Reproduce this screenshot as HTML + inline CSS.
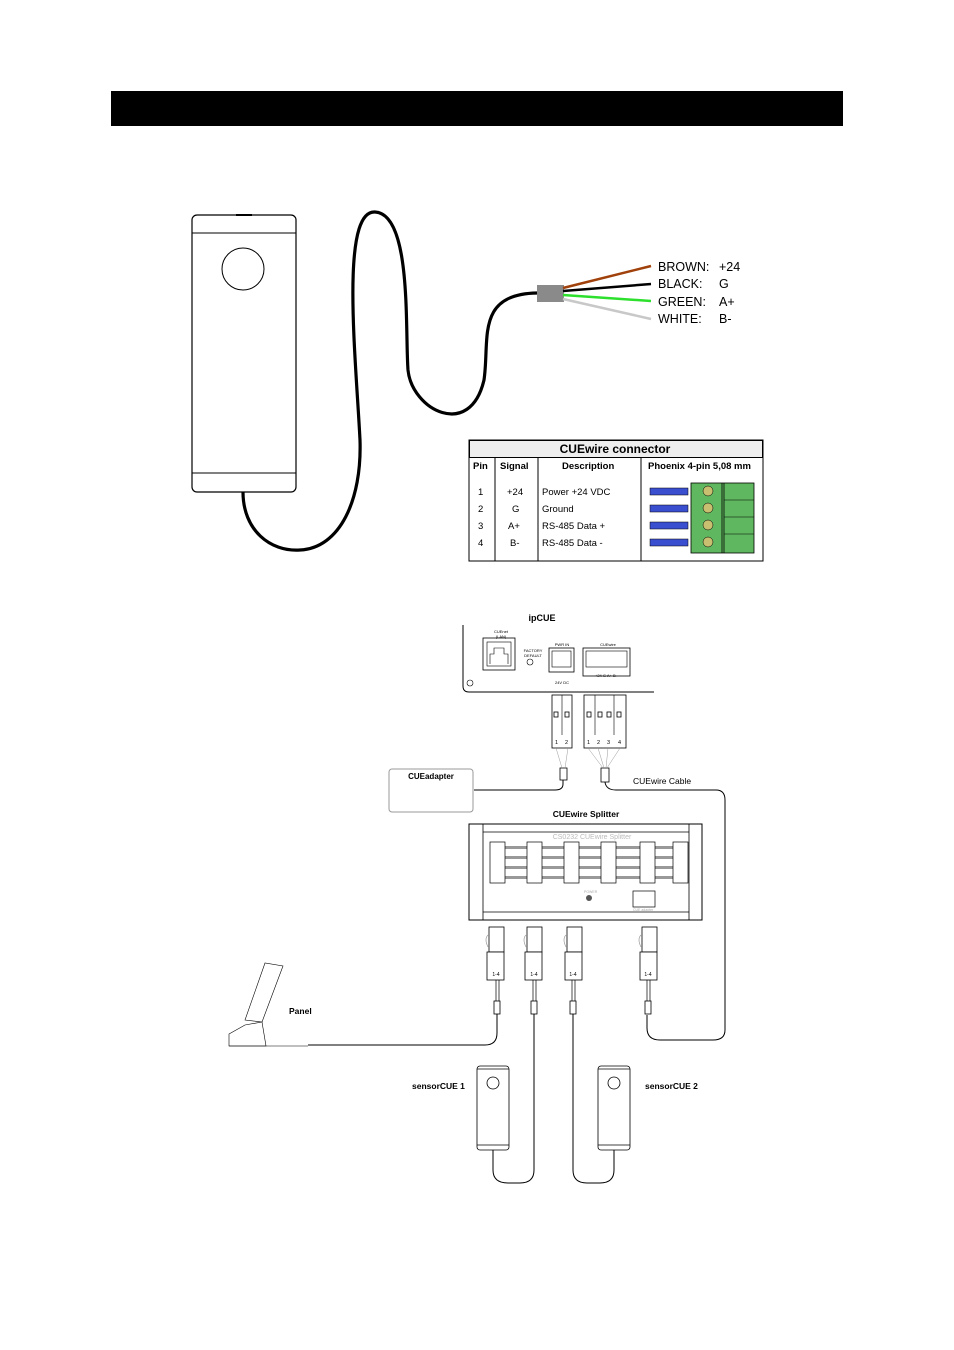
<!DOCTYPE html>
<html><head><meta charset="utf-8"><style>
body{margin:0;background:#fff}
svg{display:block}
text{font-family:"Liberation Sans",Arial,sans-serif}
</style></head><body>
<svg width="954" height="1350" viewBox="0 0 954 1350" xmlns="http://www.w3.org/2000/svg">
<rect x="111" y="91" width="732" height="35" fill="#000"/>

<!-- big sensor -->
<rect x="192" y="215" width="104" height="277" rx="5" fill="#fff" stroke="#000" stroke-width="1.2"/>
<line x1="192" y1="233" x2="296" y2="233" stroke="#000"/>
<line x1="192" y1="473" x2="296" y2="473" stroke="#000"/>
<line x1="236" y1="215" x2="252" y2="215" stroke="#000" stroke-width="2"/>
<circle cx="243" cy="269" r="21" fill="#fff" stroke="#000"/>
<path d="M243,492 C243,530 270,552 300,550 C340,548 362,500 360,440 C356,360 340,210 375,212 C412,214 405,330 408,370 C412,410 470,440 484,380 C490,340 475,294 537,293" fill="none" stroke="#000" stroke-width="3.2"/>
<rect x="537" y="285" width="27" height="17" fill="#8a8a8a"/>
<line x1="563" y1="288" x2="651" y2="266" stroke="#a0400a" stroke-width="2.5"/>
<line x1="563" y1="291" x2="651" y2="284" stroke="#000" stroke-width="2.5"/>
<line x1="563" y1="295" x2="651" y2="301" stroke="#2de02d" stroke-width="2.5"/>
<line x1="563" y1="299" x2="651" y2="319" stroke="#c8c8c8" stroke-width="2.5"/>
<g font-size="12.5">
<text x="658" y="271">BROWN:</text><text x="719" y="271">+24</text>
<text x="658" y="288">BLACK:</text><text x="719" y="288">G</text>
<text x="658" y="306">GREEN:</text><text x="719" y="306">A+</text>
<text x="658" y="323">WHITE:</text><text x="719" y="323">B-</text>
</g>

<!-- table -->
<rect x="469" y="440" width="294" height="121" fill="#fff" stroke="#000"/>
<rect x="469.5" y="440.5" width="293" height="17" fill="#eee" stroke="#000"/>
<text x="615" y="453" font-size="12" font-weight="bold" text-anchor="middle">CUEwire connector</text>
<g stroke="#000"><line x1="495" y1="457" x2="495" y2="561"/><line x1="538" y1="457" x2="538" y2="561"/><line x1="641" y1="457" x2="641" y2="561"/></g>
<g font-size="9.5" font-weight="bold"><text x="473" y="469">Pin</text><text x="500" y="469">Signal</text><text x="562" y="469">Description</text><text x="648" y="469">Phoenix 4-pin 5,08 mm</text></g>
<g font-size="9.5">
<text x="478" y="495">1</text><text x="507" y="495">+24</text><text x="542" y="495">Power +24 VDC</text>
<text x="478" y="512">2</text><text x="512" y="512">G</text><text x="542" y="512">Ground</text>
<text x="478" y="529">3</text><text x="508" y="529">A+</text><text x="542" y="529">RS-485 Data +</text>
<text x="478" y="546">4</text><text x="510" y="546">B-</text><text x="542" y="546">RS-485 Data -</text>
</g>
<rect x="691" y="483" width="63" height="70" fill="#5fb85f" stroke="#000" stroke-width="0.8"/>
<line x1="722" y1="483" x2="722" y2="553" stroke="#000" stroke-width="0.8"/>
<line x1="724" y1="483" x2="724" y2="553" stroke="#000" stroke-width="0.8"/>
<g fill="#3a4fd0" stroke="#000" stroke-width="0.5">
<rect x="650" y="488" width="38" height="7"/><rect x="650" y="505" width="38" height="7"/><rect x="650" y="522" width="38" height="7"/><rect x="650" y="539" width="38" height="7"/></g>
<g fill="#c8c070" stroke="#000" stroke-width="0.5"><circle cx="708" cy="491" r="5"/><circle cx="708" cy="508" r="5"/><circle cx="708" cy="525" r="5"/><circle cx="708" cy="542" r="5"/></g>
<g stroke="#000" stroke-width="0.6"><line x1="724" y1="500" x2="754" y2="500"/><line x1="724" y1="517" x2="754" y2="517"/><line x1="724" y1="534" x2="754" y2="534"/></g>

<!-- ipCUE -->
<text x="542" y="621" font-size="9" font-weight="bold" text-anchor="middle">ipCUE</text>
<path d="M463,625 V686 Q463,692 469,692 H654" fill="none" stroke="#000"/>
<circle cx="470" cy="683" r="3" fill="none" stroke="#000" stroke-width="0.6"/>
<rect x="483" y="638" width="32" height="32" fill="none" stroke="#000" stroke-width="0.8"/>
<rect x="487" y="642" width="24" height="24" fill="none" stroke="#000" stroke-width="0.6"/>
<path d="M490,664 V654 H494 V648 H504 V654 H508 V664" fill="none" stroke="#000" stroke-width="0.6"/>
<text x="501" y="633" font-size="4" text-anchor="middle">CUEnet</text><text x="501" y="638" font-size="4" text-anchor="middle">(LAN)</text>
<text x="533" y="652" font-size="4" text-anchor="middle">FACTORY</text><text x="533" y="657" font-size="4" text-anchor="middle">DEFAULT</text>
<circle cx="530" cy="662" r="3" fill="none" stroke="#000" stroke-width="0.6"/>
<text x="562" y="646" font-size="4" text-anchor="middle">PWR IN</text>
<rect x="549" y="648" width="25" height="24" fill="none" stroke="#000" stroke-width="0.8"/>
<rect x="552" y="651" width="19" height="16" fill="none" stroke="#000" stroke-width="0.6"/>
<text x="562" y="684" font-size="4" text-anchor="middle">24V DC</text>
<text x="608" y="646" font-size="4" text-anchor="middle">CUEwire</text>
<rect x="583" y="648" width="47" height="28" fill="none" stroke="#000" stroke-width="0.8"/>
<rect x="586" y="651" width="41" height="16" fill="none" stroke="#000" stroke-width="0.6"/>
<text x="606" y="677" font-size="4" text-anchor="middle">+24  G   A+   B-</text>
<!-- plugs -->
<g fill="#fff" stroke="#000" stroke-width="0.8">
<rect x="552" y="695" width="20" height="53"/><rect x="584" y="695" width="42" height="53"/>
<rect x="554" y="712" width="4" height="5"/><rect x="565" y="712" width="4" height="5"/>
<rect x="587" y="712" width="4" height="5"/><rect x="598" y="712" width="4" height="5"/><rect x="607" y="712" width="4" height="5"/><rect x="617" y="712" width="4" height="5"/>
<rect x="560" y="768" width="7" height="12"/><rect x="601" y="768" width="8" height="14"/>
</g>
<g stroke="#000" stroke-width="0.6"><line x1="562" y1="695" x2="562" y2="735"/><line x1="595" y1="695" x2="595" y2="735"/><line x1="614" y1="695" x2="614" y2="735"/></g>
<g font-size="5.5"><text x="555" y="744">1</text><text x="565" y="744">2</text><text x="587" y="744">1</text><text x="597" y="744">2</text><text x="607" y="744">3</text><text x="618" y="744">4</text></g>
<g stroke="#999" stroke-width="0.5"><path d="M556,748 L562,768 M568,748 L565,768 M588,748 L603,768 M598,748 L604,768 M608,748 L606,768 M620,748 L607,768"/></g>
<rect x="389" y="769" width="84" height="43" rx="3" fill="none" stroke="#999"/>
<text x="431" y="779" font-size="8" font-weight="bold" text-anchor="middle">CUEadapter</text>
<path d="M563,780 V784 Q563,790 555,790 H474" fill="none" stroke="#000"/>
<path d="M605,782 Q606,790 616,790 H716 Q725,790 725,800 V1030 Q725,1040 713,1040 H660 Q647,1040 647,1028 V1015" fill="none" stroke="#000"/>
<text x="633" y="784" font-size="8.5">CUEwire Cable</text>

<!-- splitter -->
<text x="586" y="817" font-size="8.5" font-weight="bold" text-anchor="middle">CUEwire Splitter</text>
<rect x="469" y="824" width="233" height="96" fill="none" stroke="#000"/>
<g stroke="#000" stroke-width="0.8"><line x1="483" y1="824" x2="483" y2="920"/><line x1="689" y1="824" x2="689" y2="920"/><line x1="483" y1="832" x2="689" y2="832"/><line x1="483" y1="912" x2="689" y2="912"/></g>
<text x="592" y="839" font-size="7" fill="#bbb" text-anchor="middle">CS0232 CUEwire  Splitter</text>
<g fill="#999"><rect x="505" y="846" width="170" height="3"/><rect x="505" y="856" width="170" height="3"/><rect x="505" y="866" width="170" height="3"/><rect x="505" y="876" width="170" height="3"/></g>
<g fill="#fff" stroke="#000" stroke-width="0.7">
<rect x="490" y="842" width="15" height="41"/><rect x="527" y="842" width="15" height="41"/><rect x="564" y="842" width="15" height="41"/><rect x="601" y="842" width="15" height="41"/><rect x="640" y="842" width="15" height="41"/><rect x="673" y="842" width="15" height="41"/>
<rect x="633" y="891" width="22" height="16"/>
</g>
<circle cx="589" cy="898" r="3" fill="#555"/>
<g font-size="3.5" fill="#aaa"><text x="584" y="893">POWER</text><text x="633" y="911">CUE adapter</text></g>

<!-- bottom plugs -->
<g fill="#fff" stroke="#000" stroke-width="0.8">
<rect x="489" y="927" width="15" height="25"/><rect x="487" y="952" width="17" height="28"/>
<rect x="527" y="927" width="15" height="25"/><rect x="525" y="952" width="17" height="28"/>
<rect x="567" y="927" width="15" height="25"/><rect x="565" y="952" width="17" height="28"/>
<rect x="642" y="927" width="15" height="25"/><rect x="640" y="952" width="17" height="28"/>
<rect x="494" y="1001" width="6" height="13"/><rect x="531" y="1001" width="6" height="13"/><rect x="570" y="1001" width="6" height="13"/><rect x="645" y="1001" width="6" height="13"/>
</g>
<g fill="none" stroke="#999" stroke-width="0.7"><path d="M488,935 q-4,4 0,12 M526,935 q-4,4 0,12 M566,935 q-4,4 0,12 M641,935 q-4,4 0,12"/></g>
<g font-size="5" text-anchor="middle"><text x="496" y="976">1-4</text><text x="534" y="976">1-4</text><text x="573" y="976">1-4</text><text x="648" y="976">1-4</text></g>
<g stroke="#000" stroke-width="0.7"><path d="M496,980 V1001 M499,980 V1001 M533,980 V1001 M536,980 V1001 M572,980 V1001 M575,980 V1001 M647,980 V1001 M650,980 V1001"/></g>
<path d="M497,1014 V1033 Q497,1045 485,1045 H308" fill="none" stroke="#000"/>
<path d="M534,1014 V1170 Q534,1183 520,1183 H508 Q493,1183 493,1170 V1150" fill="none" stroke="#000"/>
<path d="M573,1014 V1170 Q573,1183 587,1183 H600 Q614,1183 614,1170 V1150" fill="none" stroke="#000"/>

<!-- panel -->
<g fill="#fff" stroke="#000" stroke-width="0.6">
<path d="M245,1020 L265,963 L283,966 L262,1022 Z"/>
<path d="M229,1034 L245,1025 L262,1022 L266,1046 L229,1046 Z"/>
<line x1="229" y1="1046" x2="308" y2="1046"/>
</g>
<text x="289" y="1014" font-size="8.5" font-weight="bold">Panel</text>

<!-- sensors -->
<g fill="#fff" stroke="#000" stroke-width="0.8">
<rect x="477" y="1066" width="32" height="84" rx="3"/><circle cx="493" cy="1083" r="6"/>
<rect x="598" y="1066" width="32" height="84" rx="3"/><circle cx="614" cy="1083" r="6"/>
</g>
<g stroke="#000" stroke-width="0.7"><line x1="477" y1="1069" x2="509" y2="1069"/><line x1="477" y1="1145" x2="509" y2="1145"/><line x1="598" y1="1069" x2="630" y2="1069"/><line x1="598" y1="1145" x2="630" y2="1145"/></g>
<text x="412" y="1089" font-size="8.5" font-weight="bold">sensorCUE 1</text>
<text x="645" y="1089" font-size="8.5" font-weight="bold">sensorCUE 2</text>
</svg>
</body></html>
